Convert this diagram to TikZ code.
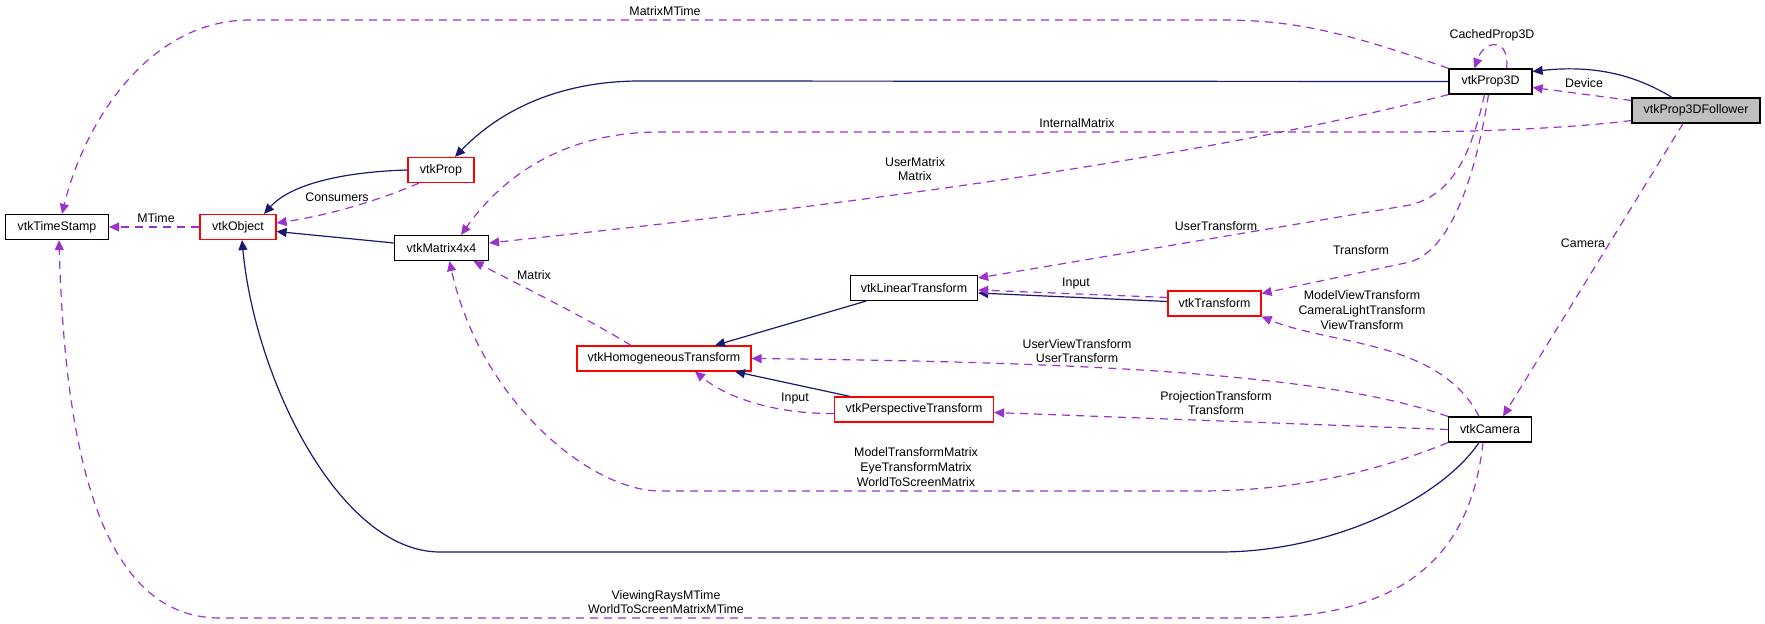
\documentclass[tikz,border=0pt]{standalone}
\usepackage{fontspec}
\setmainfont{Liberation Sans}
\usetikzlibrary{arrows.meta}
\definecolor{inhblue}{HTML}{191970}
\definecolor{usepurple}{HTML}{9A32CD}
\definecolor{curgray}{HTML}{BFBFBF}

\begin{document}
\begin{tikzpicture}[x=0.5pt, y=-0.5pt,
        every node/.style={font=\fontsize{6.2}{7.4}\selectfont},
        cls/.style={draw=black, fill=white, inner sep=0pt, minimum height=12.5pt, line width=0.6pt},
        redcls/.style={cls, draw=red},
        curcls/.style={cls, fill=curgray},
        inh/.style={draw=inhblue, line width=0.6pt, -{Triangle[length=5pt, width=4.5pt]}},
        uses/.style={draw=usepurple, line width=0.6pt, dash pattern=on 4pt off 3pt,
            -{Triangle[length=5pt, width=4.5pt, fill=usepurple]}},
        lbl/.style={align=center, inner sep=0pt}]
    \useasboundingbox (0,0) rectangle (1765,624);

    % classes
    \node[cls, minimum width=51.5pt] (ts) at (57,227) {vtkTimeStamp};
    \node[redcls, minimum width=38pt] (obj) at (238,227) {vtkObject};
    \node[redcls, minimum width=33pt] (prop) at (441,170) {vtkProp};
    \node[cls, minimum width=47pt] (m44) at (441.5,248) {vtkMatrix4x4};
    \node[cls, minimum width=41.5pt] (p3d) at (1490.5,81.5) {vtkProp3D};
    \node[curcls, minimum width=64pt] (fol) at (1696,110.5) {vtkProp3DFollower};
    \node[cls, minimum width=63.5pt] (lt) at (914,288) {vtkLinearTransform};
    \node[redcls, minimum width=46.5pt] (tr) at (1214.5,303.5) {vtkTransform};
    \node[redcls, minimum width=87pt] (ht) at (664,358.5) {vtkHomogeneousTransform};
    \node[redcls, minimum width=79.5pt] (pt) at (914,409.5) {vtkPerspectiveTransform};
    \node[cls, minimum width=41.5pt] (cam) at (1490,429.5) {vtkCamera};

    % inheritance
    \draw[inh] ([xshift=-12pt]fol.north) .. controls (1640,78) and (1600,64) .. ([yshift=5pt]p3d.east);
    \draw[inh] (p3d.west) -- (640,81) .. controls (560,81) and (500,110) .. ([xshift=7pt]prop.north);
    \draw[inh] (prop.west) .. controls (340,172) and (290,185) .. ([xshift=13pt]obj.north);
    \draw[inh] ([yshift=2.5pt]m44.west) -- ([yshift=-2.25pt]obj.east);
    \draw[inh] ([xshift=-24pt]lt.south) -- ([xshift=25.5pt]ht.north);
    \draw[inh] ([yshift=1pt]tr.west) -- ([yshift=-2.5pt]lt.east);
    \draw[inh] ([xshift=-32pt]pt.north) -- ([xshift=35.5pt]ht.south);
    \draw[inh] ([xshift=-5.5pt]cam.south) .. controls (1440,500) and (1330,552) .. (1220,552)
        -- (440,552) .. controls (340,552) and (255,380) .. ([xshift=2pt]obj.south);

    % usage
    \draw[uses] ([yshift=5pt]fol.west) -- ([yshift=-3pt]p3d.east);
    \draw[uses] ([xshift=8pt]p3d.north) .. controls +(4,-30) and +(10,-30) .. ([xshift=-8pt]p3d.north);
    \draw[uses] (p3d.north west) .. controls (1340,30) and (1290,20) .. (1220,20)
        -- (250,20) .. controls (150,20) and (85,120) .. ([xshift=2.5pt]ts.north);
    \draw[uses] ([yshift=-5pt]fol.west) .. controls (1590,126) and (1500,132) .. (1400,132)
        -- (660,132) .. controls (560,132) and (500,180) .. ([xshift=9.75pt]m44.north);
    \draw[uses] (p3d.south west) .. controls (1150,170) and (750,215) .. ([yshift=2.5pt]m44.east);
    \draw[uses] ([xshift=-3pt]p3d.south) .. controls (1470,160) and (1450,195) .. (1410,205)
        -- ([yshift=5pt]lt.east);
    \draw[uses] ([xshift=-1pt]p3d.south) .. controls (1475,180) and (1450,250) .. (1410,262)
        -- ([yshift=5pt]tr.east);
    \draw[uses] ([xshift=-6.5pt]fol.south) -- ([xshift=6.5pt]cam.north);
    \draw[uses] ([xshift=-11pt]prop.south) .. controls (380,200) and (330,215) .. ([yshift=2pt]obj.east);
    \draw[uses] (obj.west) -- (ts.east);
    \draw[uses] ([xshift=-16.5pt]ht.north) .. controls (590,320) and (520,285) .. ([xshift=16pt]m44.south);
    \draw[uses] ([yshift=3pt]tr.west) -- ([yshift=-1pt]lt.east);
    \draw[uses] ([yshift=-2pt]pt.west) .. controls (780,414) and (730,400) .. ([xshift=15.5pt]ht.south);
    \draw[uses] ([xshift=-5.5pt]cam.north) .. controls (1440,340) and (1330,345) .. (tr.south east);
    \draw[uses] (cam.north west) .. controls (1330,375) and (1100,362) .. (ht.east);
    \draw[uses] (cam.west) -- ([yshift=-1.5pt]pt.east);
    \draw[uses] (cam.south west) .. controls (1380,470) and (1300,491) .. (1200,491)
        -- (660,491) .. controls (590,491) and (480,400) .. ([xshift=4pt]m44.south);
    \draw[uses] ([xshift=-3.5pt]cam.south) .. controls (1470,560) and (1400,618) .. (1250,618)
        -- (220,618) .. controls (100,618) and (65,450) .. ([xshift=1pt]ts.south);

    % labels
    \node[lbl] (lDevice) at (1584,83) {Device};
    \node[lbl] (lCached) at (1492,35) {CachedProp3D};
    \node[lbl] (lMatrixMTime) at (665,11) {MatrixMTime};
    \node[lbl] (lInternal) at (1077,123) {InternalMatrix};
    \node[lbl] (lUserMatrix) at (915,169) {UserMatrix\\Matrix};
    \node[lbl] (lUserTransform) at (1216,226) {UserTransform};
    \node[lbl] (lTransform) at (1361,250) {Transform};
    \node[lbl] (lCamera) at (1583,243) {Camera};
    \node[lbl] (lConsumers) at (337,197) {Consumers};
    \node[lbl] (lMTime) at (156,218) {MTime};
    \node[lbl] (lMatrix) at (534,275) {Matrix};
    \node[lbl] (lInput) at (1076,284) {Input};
    \node[lbl] (lInput2) at (795,399) {Input};
    \node[lbl] (lModelView) at (1362,310) {ModelViewTransform\\CameraLightTransform\\ViewTransform};
    \node[lbl] (lUserView) at (1077,351) {UserViewTransform\\UserTransform};
    \node[lbl] (lProjection) at (1216,403) {ProjectionTransform\\Transform};
    \node[lbl] (lModelMatrix) at (916,467) {ModelTransformMatrix\\EyeTransformMatrix\\WorldToScreenMatrix};
    \node[lbl] (lViewingRays) at (666,602) {ViewingRaysMTime\\WorldToScreenMatrixMTime};
\end{tikzpicture}
\end{document}
